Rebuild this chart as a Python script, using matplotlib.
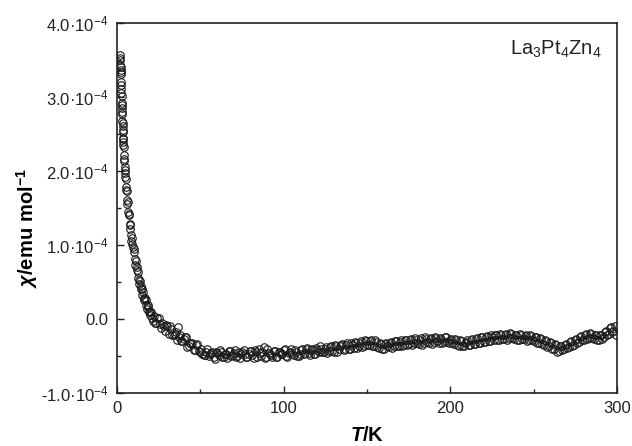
import numpy as np
import matplotlib
matplotlib.use("Agg")
import matplotlib.pyplot as plt
from matplotlib.ticker import MultipleLocator, FuncFormatter

plt.rcParams['font.family'] = ['Liberation Sans', 'DejaVu Sans']
plt.rcParams['mathtext.fontset'] = 'custom'
plt.rcParams['mathtext.rm'] = 'Liberation Sans'
plt.rcParams['mathtext.it'] = 'Liberation Sans:italic:bold'
plt.rcParams['mathtext.bf'] = 'Liberation Sans:bold'
plt.rcParams['mathtext.default'] = 'regular'

# temperature (K) and susceptibility (1e-4 emu/mol)
T_low = [1.8, 1.9, 2.0, 2.1, 2.2, 2.3, 2.4, 2.5, 2.6, 2.7, 2.8, 2.9, 3.0, 3.1,
         3.2, 3.3, 3.4, 3.5, 3.6, 3.7, 3.8, 3.9, 4.0, 4.2, 4.4, 4.6, 4.8, 5.0,
         5.2, 5.5, 5.8, 6.1, 6.4, 6.8, 7.2, 7.6, 8.0, 8.5, 9.0, 9.6, 10.2,
         10.8, 11.4, 12.0, 12.6, 13.2, 13.8, 14.5, 15.2, 16.0, 16.8, 17.6,
         18.4, 19.2, 20.1, 21.0]
chi_low = [3.57, 3.53, 3.50, 3.44, 3.41, 3.34, 3.31, 3.21, 3.16, 3.06, 3.01,
           2.92, 2.89, 2.80, 2.77, 2.68, 2.65, 2.56, 2.53, 2.45, 2.43, 2.35,
           2.33, 2.22, 2.17, 2.06, 2.01, 1.92, 1.89, 1.78, 1.73, 1.61, 1.58,
           1.45, 1.42, 1.29, 1.27, 1.13, 1.10, 0.97, 0.94, 0.81, 0.78, 0.66,
           0.64, 0.53, 0.52, 0.41, 0.40, 0.29, 0.29, 0.19, 0.19, 0.09, 0.09,
           0.01]

# second sweep through the steep part
T_low2 = [2.2, 2.6, 3.0, 3.4, 3.8, 4.3, 4.9, 5.6, 6.3, 7.0, 7.8, 8.7, 9.3,
          10.5, 11.1, 12.3, 12.9, 13.5, 14.2, 14.9, 15.6, 16.4, 17.2, 18.0,
          18.8, 19.6, 20.5, 21.4]
chi_low2 = [3.37, 3.11, 2.85, 2.61, 2.40, 2.13, 1.97, 1.75, 1.56, 1.40, 1.22,
            1.05, 1.02, 0.90, 0.73, 0.70, 0.55, 0.47, 0.45, 0.33, 0.36, 0.25,
            0.26, 0.13, 0.16, 0.05, 0.10, -0.03]

T_high = [22, 23.5, 25, 26.5, 28, 29.5, 31, 32.5, 34, 35.5, 36.6, 37, 38.5,
          40, 41.5, 43, 44.5, 46, 47.5, 49, 50.5, 52, 53.5, 55, 56.5, 58,
          59.5, 61, 62.5, 64, 65.5, 67, 68.5, 70, 71.5, 73, 74.5, 76, 77.5,
          79, 80.5, 82, 83.5, 85, 86.5, 88, 89.5, 91, 92.5, 94, 95.5, 97,
          98.5, 100, 101.5, 103, 104.5, 106, 107.5, 109, 110.5, 112, 113.5,
          115, 116.5, 118, 119.5, 121, 122.5, 124, 125.5, 127, 128.5, 130,
          131.5, 133, 134.5, 136, 137.5, 139, 140.5, 142, 143.5, 145, 146.5,
          148, 149.5, 151, 152.5, 154, 155.5, 157, 158.5, 160, 161.5, 163,
          164.5, 166, 167.5, 169, 170.5, 172, 173.5, 175, 176.5, 178, 179.5,
          181, 182.5, 184, 185.5, 187, 188.5, 190, 191.5, 193, 194.5, 196,
          197.5, 199, 200.5, 202, 203.5, 205, 206.5, 208, 209.5, 211, 212.5,
          214, 215.5, 217, 218.5, 220, 221.5, 223, 224.5, 226, 227.5, 229,
          230.5, 232, 233.5, 235, 236.5, 238, 239.5, 241, 242.5, 244, 245.5,
          247, 248.5, 250, 251.5, 253, 254.5, 256, 257.5, 259, 260.5, 262,
          263.5, 265, 266.5, 268, 269.5, 271, 272.5, 274, 275.5, 277, 278.5,
          280, 281.5, 283, 284.5, 286, 287.5, 289, 290.5, 292, 293.5, 295,
          296.5, 298, 299.5]
chi_high = [0.04, -0.05, 0.01, -0.12, -0.09, -0.08, -0.20, -0.14, -0.22,
            -0.17, -0.11, -0.25, -0.30, -0.27, -0.25, -0.36, -0.34, -0.42,
            -0.35, -0.43, -0.40, -0.49, -0.44, -0.50, -0.46, -0.52, -0.45,
            -0.49, -0.44, -0.51, -0.47, -0.43, -0.50, -0.46, -0.52, -0.44,
            -0.48, -0.42, -0.51, -0.47, -0.43, -0.53, -0.45, -0.40, -0.50,
            -0.38, -0.52, -0.46, -0.49, -0.43, -0.51, -0.45, -0.48, -0.42,
            -0.50, -0.46, -0.41, -0.49, -0.44, -0.50, -0.42, -0.47, -0.40,
            -0.46, -0.42, -0.47, -0.39, -0.44, -0.40, -0.45, -0.38, -0.43,
            -0.37, -0.44, -0.36, -0.41, -0.35, -0.42, -0.35, -0.40, -0.33,
            -0.39, -0.32, -0.37, -0.30, -0.36, -0.30, -0.35, -0.29, -0.36,
            -0.31, -0.39, -0.34, -0.40, -0.33, -0.38, -0.31, -0.37, -0.30,
            -0.36, -0.29, -0.35, -0.28, -0.34, -0.27, -0.33, -0.28, -0.34,
            -0.26, -0.32, -0.27, -0.33, -0.26, -0.31, -0.26, -0.33, -0.27,
            -0.31, -0.25, -0.32, -0.27, -0.34, -0.29, -0.36, -0.30, -0.37,
            -0.31, -0.35, -0.28, -0.34, -0.27, -0.33, -0.25, -0.31, -0.24,
            -0.30, -0.22, -0.28, -0.21, -0.29, -0.22, -0.27, -0.20, -0.26,
            -0.20, -0.27, -0.21, -0.28, -0.21, -0.27, -0.22, -0.29, -0.23,
            -0.30, -0.24, -0.32, -0.27, -0.35, -0.30, -0.37, -0.32, -0.40,
            -0.35, -0.43, -0.36, -0.41, -0.34, -0.38, -0.30, -0.35, -0.27,
            -0.31, -0.23, -0.28, -0.20, -0.26, -0.20, -0.27, -0.22, -0.29,
            -0.21, -0.25, -0.16, -0.20, -0.11, -0.16, -0.21]

# second sweep above 22 K
T_high2 = [22.75, 24.25, 25.75, 27.25, 28.75, 30.25, 31.75, 33.25, 34.75,
           36.25, 37.75, 39.25, 40.75, 42.25, 43.75, 45.25, 46.75, 48.25,
           49.75, 51.25, 52.75, 54.25, 55.75, 57.25, 58.75, 60.25, 61.75,
           63.25, 64.75, 66.25, 67.75, 69.25, 70.75, 72.25, 73.75, 75.25,
           76.75, 78.25, 79.75, 81.25, 82.75, 84.25, 85.75, 87.25, 88.75,
           90.25, 91.75, 93.25, 94.75, 96.25, 97.75, 99.25, 100.75, 102.25,
           103.75, 105.25, 106.75, 108.25, 109.75, 111.25, 112.75, 114.25,
           115.75, 117.25, 118.75, 120.25, 121.75, 123.25, 124.75, 126.25,
           127.75, 129.25, 130.75, 132.25, 133.75, 135.25, 136.75, 138.25,
           139.75, 141.25, 142.75, 144.25, 145.75, 147.25, 148.75, 150.25,
           151.75, 153.25, 154.75, 156.25, 157.75, 159.25, 160.75, 162.25,
           163.75, 165.25, 166.75, 168.25, 169.75, 171.25, 172.75, 174.25,
           175.75, 177.25, 178.75, 180.25, 181.75, 183.25, 184.75, 186.25,
           187.75, 189.25, 190.75, 192.25, 193.75, 195.25, 196.75, 198.25,
           199.75, 201.25, 202.75, 204.25, 205.75, 207.25, 208.75, 210.25,
           211.75, 213.25, 214.75, 216.25, 217.75, 219.25, 220.75, 222.25,
           223.75, 225.25, 226.75, 228.25, 229.75, 231.25, 232.75, 234.25,
           235.75, 237.25, 238.75, 240.25, 241.75, 243.25, 244.75, 246.25,
           247.75, 249.25, 250.75, 252.25, 253.75, 255.25, 256.75, 258.25,
           259.75, 261.25, 262.75, 264.25, 265.75, 267.25, 268.75, 270.25,
           271.75, 273.25, 274.75, 276.25, 277.75, 279.25, 280.75, 282.25,
           283.75, 285.25, 286.75, 288.25, 289.75, 291.25, 292.75, 294.25,
           295.75, 297.25, 298.75]
chi_high2 = [-0.05, 0.01, -0.07, -0.05, -0.16, -0.10, -0.09, -0.21, -0.20,
             -0.28, -0.21, -0.30, -0.25, -0.38, -0.33, -0.33, -0.42, -0.34,
             -0.44, -0.48, -0.49, -0.41, -0.48, -0.45, -0.54, -0.46, -0.42,
             -0.51, -0.48, -0.53, -0.43, -0.49, -0.42, -0.50, -0.53, -0.45,
             -0.47, -0.52, -0.43, -0.49, -0.42, -0.51, -0.46, -0.44, -0.53,
             -0.41, -0.48, -0.52, -0.43, -0.51, -0.44, -0.48, -0.41, -0.51,
             -0.44, -0.47, -0.42, -0.50, -0.47, -0.40, -0.46, -0.39, -0.49,
             -0.41, -0.48, -0.42, -0.37, -0.45, -0.40, -0.46, -0.38, -0.43,
             -0.35, -0.44, -0.37, -0.34, -0.41, -0.33, -0.40, -0.35, -0.31,
             -0.39, -0.33, -0.38, -0.29, -0.35, -0.30, -0.37, -0.29, -0.38,
             -0.33, -0.41, -0.34, -0.37, -0.32, -0.39, -0.30, -0.36, -0.31,
             -0.37, -0.28, -0.35, -0.29, -0.35, -0.26, -0.32, -0.28, -0.35,
             -0.25, -0.31, -0.27, -0.34, -0.25, -0.30, -0.26, -0.33, -0.24,
             -0.31, -0.28, -0.33, -0.27, -0.35, -0.29, -0.36, -0.33, -0.29,
             -0.35, -0.27, -0.34, -0.26, -0.32, -0.25, -0.31, -0.23, -0.30,
             -0.25, -0.22, -0.29, -0.20, -0.27, -0.21, -0.28, -0.19, -0.26,
             -0.22, -0.28, -0.20, -0.27, -0.23, -0.30, -0.21, -0.29, -0.25,
             -0.33, -0.26, -0.34, -0.29, -0.38, -0.31, -0.40, -0.34, -0.44,
             -0.37, -0.42, -0.35, -0.39, -0.31, -0.36, -0.28, -0.33, -0.24,
             -0.29, -0.21, -0.27, -0.19, -0.26, -0.21, -0.28, -0.22, -0.27,
             -0.17, -0.21, -0.12, -0.17, -0.09]

label = r'La$_3$Pt$_4$Zn$_4$'


def y_fmt(v, pos):
    if abs(v) < 1e-12:
        return '0.0'
    return '%.1f\u00b710$^{-4}$' % (v * 1e4)


T = np.array(T_low + T_low2 + T_high + T_high2)
chi = np.array(chi_low + chi_low2 + chi_high + chi_high2) * 1e-4

fig = plt.figure(figsize=(6.32, 4.46), dpi=100)
ax = fig.add_axes([0.185, 0.119, 0.791, 0.829])

ax.plot(T, chi, linestyle='none', marker='o', markersize=5.4,
        markerfacecolor='none', markeredgecolor='#1a1a1a', markeredgewidth=0.8)

ax.set_xlim(0, 300)
ax.set_ylim(-1e-4, 4e-4)
ax.xaxis.set_major_locator(MultipleLocator(100))
ax.xaxis.set_minor_locator(MultipleLocator(50))
ax.yaxis.set_major_locator(MultipleLocator(1e-4))
ax.yaxis.set_minor_locator(MultipleLocator(0.5e-4))
ax.yaxis.set_major_formatter(FuncFormatter(y_fmt))

ax.tick_params(which='both', direction='in', top=False, right=False,
               labelsize=12, colors='#222222')
ax.tick_params(which='major', length=5, width=1.0, pad=6)
ax.tick_params(which='minor', length=3, width=1.0)
for s in ax.spines.values():
    s.set_linewidth(1.2)
    s.set_color('#222222')

ax.set_xlabel(r'$\mathit{T}\mathbf{/K}$', fontsize=14.5, labelpad=7)
ax.set_ylabel(r'$\mathit{\chi}\mathbf{/emu\ mol^{-1}}$', fontsize=14.5)
ax.yaxis.set_label_coords(-0.153, 0.446)
ax.text(0.97, 0.914, label, transform=ax.transAxes, ha='right', va='baseline',
        fontsize=14.5, color='#222222')

fig.savefig('out.png', dpi=100)
plt.close(fig)
